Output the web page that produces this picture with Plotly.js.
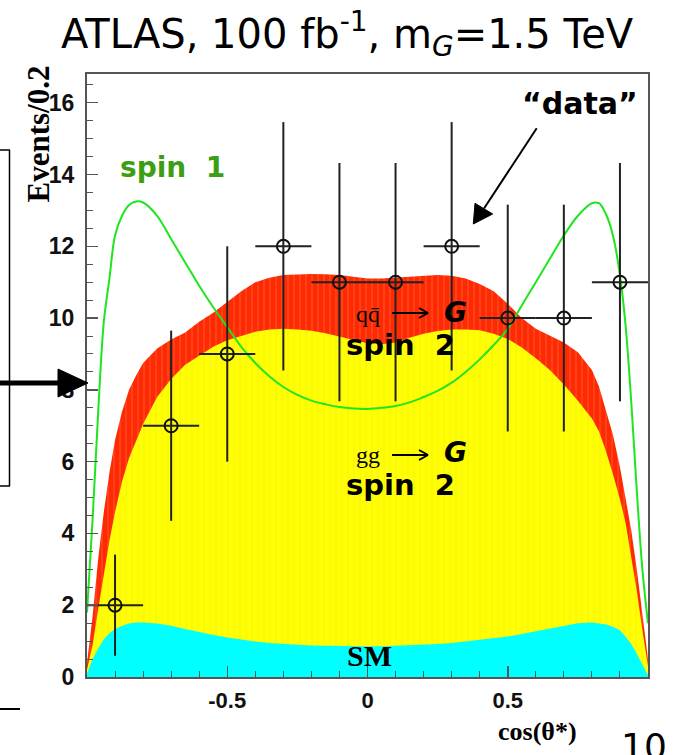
<!DOCTYPE html>
<html><head><meta charset="utf-8">
<script src="https://cdn.plot.ly/plotly-3.0.1.min.js"></script>
<style>html,body{margin:0;padding:0;background:#fff;overflow:hidden}#chart{width:675px;height:755px}</style>
</head><body><div id="chart"></div>
<script>
// ---- data ----
const xGrid = [-1.00,-0.98,-0.96,-0.94,-0.92,-0.90,-0.875,-0.85,-0.825,-0.80,
  -0.75,-0.70,-0.65,-0.60,-0.55,-0.50,-0.45,-0.40,-0.35,-0.30,-0.25,-0.20,-0.15,-0.10,-0.05,
  0.00,0.05,0.10,0.15,0.20,0.25,0.30,0.35,0.40,0.45,0.50,0.55,0.60,0.65,0.70,0.75,
  0.80,0.825,0.85,0.875,0.90,0.92,0.94,0.96,0.98,1.00];
// top of stack: SM + gg->G + qqbar->G (red)
const stackQQ = [0.4,1.7,3.3,4.6,5.7,6.6,7.4,8.0,8.4,8.75,
  9.15,9.4,9.6,9.9,10.15,10.45,10.75,11.0,11.12,11.2,11.22,11.23,11.22,11.2,11.15,
  11.1,11.1,11.12,11.16,11.18,11.2,11.18,11.1,10.95,10.75,10.4,10.0,9.7,9.52,9.32,9.05,
  8.55,8.1,7.45,6.75,5.85,5.0,4.1,3.0,1.8,0.5];
// SM + gg->G (yellow)
const stackGG = [0.2,0.9,1.9,2.9,3.8,4.6,5.45,6.1,6.6,7.05,
  7.8,8.3,8.7,8.95,9.2,9.38,9.5,9.62,9.68,9.7,9.68,9.65,9.58,9.48,9.38,
  9.3,9.27,9.32,9.45,9.56,9.64,9.68,9.68,9.66,9.56,9.42,9.18,8.88,8.55,8.15,7.7,
  7.2,6.85,6.3,5.65,4.95,4.3,3.4,2.4,1.3,0.3];
// SM (cyan)
const stackSM = [0.1,0.5,0.8,1.05,1.22,1.34,1.43,1.49,1.52,1.52,
  1.49,1.43,1.34,1.25,1.17,1.1,1.04,0.99,0.95,0.92,0.9,0.88,0.87,0.86,0.86,
  0.86,0.86,0.87,0.88,0.9,0.92,0.95,0.99,1.04,1.08,1.13,1.2,1.28,1.36,1.44,1.5,
  1.52,1.5,1.46,1.4,1.3,1.12,0.92,0.65,0.35,0.05];
// spin 1 curve (green)
const spin1 = [1.8,4.4,7.4,9.9,11.1,12.3,12.85,13.15,13.25,13.22,
  12.85,12.2,11.55,10.9,10.3,9.75,9.2,8.75,8.38,8.08,7.86,7.7,7.6,7.52,7.48,
  7.47,7.5,7.55,7.65,7.8,7.97,8.2,8.5,8.85,9.25,9.7,10.35,11.0,11.65,12.3,12.85,
  13.2,13.2,12.9,12.3,11.2,9.8,7.7,5.2,3.0,1.5];
// "data" points
const dataX = [-0.9,-0.7,-0.5,-0.3,-0.1,0.1,0.3,0.5,0.7,0.9];
const dataY = [2,7,9,12,11,11,12,10,10,11];
const dataErrY = [1.41,2.65,3.0,3.46,3.32,3.32,3.46,3.16,3.16,3.32];
const dataErrX = [0.1,0.1,0.1,0.1,0.1,0.1,0.1,0.1,0.1,0.1];
const yTickVals = [0,2,4,6,8,10,12,14,16];
const xTickVals = [-0.5,0,0.5];
const xTickText = ['-0.5','0','0.5'];

// ---- layout geometry (pixels) ----
const W=675,H=755,L=87,R=648,T=74,B=677;
const px = x => (x-L)/(R-L);
const py = y => (B-y)/(B-T);
const comic = 'Comic Sans MS, DejaVu Sans, sans-serif';
const times = 'Liberation Serif, Times New Roman, serif';

const traces = [
  {x:xGrid,y:stackQQ,mode:'lines',fill:'tozeroy',line:{width:0,color:'#ff2a00'},fillcolor:'#ff2a00',
   fillpattern:{shape:'|',bgcolor:'#ff2a00',fgcolor:'#ff5a40',size:6,solidity:0.15},hoverinfo:'skip'},
  {x:xGrid,y:stackGG,mode:'lines',fill:'tozeroy',line:{width:0,color:'#ffff00'},fillcolor:'#ffff00',
   fillpattern:{shape:'|',bgcolor:'#ffff00',fgcolor:'#f4ee20',size:6,solidity:0.15},hoverinfo:'skip'},
  {x:xGrid,y:stackSM,mode:'lines',fill:'tozeroy',line:{width:0,color:'#00ffff'},fillcolor:'#00ffff',hoverinfo:'skip'},
  {x:xGrid,y:spin1,mode:'lines',line:{color:'#1ee61e',width:2,shape:'spline'},hoverinfo:'skip'},
  {x:dataX,y:dataY,mode:'markers',
   marker:{symbol:'circle-open',size:13,color:'#111',line:{width:2,color:'#111'}},
   error_y:{type:'data',array:dataErrY,width:0,thickness:2,color:'#222'},
   error_x:{type:'data',array:dataErrX,width:0,thickness:2,color:'#222'}}
];

const ann = [];
function txt(text,x,y,size,family,color,opts){
  ann.push(Object.assign({text:text,xref:'paper',yref:'paper',x:px(x),y:py(y),showarrow:false,
    xanchor:'center',yanchor:'middle',font:{size:size,family:family,color:color||'#000'}},opts||{}));
}
txt('ATLAS, 100 fb<sup>-1</sup>, m<sub><i>G</i></sub>=1.5 TeV',347,34,40,comic,'#000');
txt('Events/0.2',38,64,31,times,'#000',{textangle:-90,yanchor:'top',font:{size:31,family:times,color:'#000',weight:'bold'}});
txt('cos(θ*)',537,731,26,times,'#000',{font:{size:26,family:times,color:'#000',weight:'bold'}});
txt('spin  1',172,168,28,comic,'#3c9e12',{font:{size:28,family:comic,color:'#3c9e12',weight:'bold'}});
txt('“data”',580,103,30,comic,'#000',{font:{size:30,family:comic,color:'#000',weight:'bold'}});
txt('qq̄',368,314,24,times,'#000');
txt('<i>G</i>',455,312,28,comic,'#000',{font:{size:28,family:comic,color:'#000',weight:'bold'}});
txt('spin  2',400,345,29,comic,'#000',{font:{size:29,family:comic,color:'#000',weight:'bold'}});
txt('gg',368,455,24,times,'#000');
txt('<i>G</i>',455,452,28,comic,'#000',{font:{size:28,family:comic,color:'#000',weight:'bold'}});
txt('spin  2',400,485,29,comic,'#000',{font:{size:29,family:comic,color:'#000',weight:'bold'}});
txt('SM',369,655,30,times,'#000',{font:{size:30,family:times,color:'#000',weight:'bold'}});
txt('10',644,724,36,comic,'#000',{yanchor:'top'});

const shapes = [];
function line(x0,y0,x1,y1,w){shapes.push({type:'line',xref:'paper',yref:'paper',x0:px(x0),y0:py(y0),x1:px(x1),y1:py(y1),line:{color:'#000',width:w}});}
function tri(p){shapes.push({type:'path',xref:'paper',yref:'paper',
  path:'M'+p.map(q=>px(q[0])+','+py(q[1])).join(' L')+' Z',fillcolor:'#000',line:{color:'#000',width:1}});}
// small "→" arrows inside the labels
[313,455].forEach(function(y){
  line(392,y,428,y,2);
  line(428,y,419,y-5,2);
  line(428,y,419,y+5,2);
});
// "data" arrow
line(536.7,128.3,484,208.5,2);
tri([[473.3,224],[475,203.3],[492.7,214]]);
// slide decorations on the left
line(0,150,10,150,1.5);
line(9.5,150,9.5,486,1.5);
line(0,486,10,486,1.5);
line(0,383,60,383,5);
tri([[58,369],[88,383],[58,397]]);
line(0,709,20,709,2);

const tickFontX = {family:'Liberation Sans',size:22,color:'#111',weight:'bold'};
const tickFontY = {family:'Liberation Sans',size:23,color:'#111',weight:'bold'};

const layout = {
  width:W,height:H,margin:{l:L,r:W-R,t:T,b:H-B,pad:0},
  paper_bgcolor:'#fff',plot_bgcolor:'#fff',showlegend:false,
  xaxis:{range:[-1,1],tickmode:'array',tickvals:xTickVals,ticktext:xTickText,tickfont:tickFontX,
    showline:true,mirror:true,linecolor:'#555',linewidth:2,ticks:'inside',
    tickcolor:'#555',tickwidth:1.5,ticklen:11,showgrid:false,zeroline:false,
    ticklabelstandoff:3,minor:{ticks:'inside',tick0:0,dtick:0.1,ticklen:6,tickcolor:'#555',tickwidth:1,showgrid:false}},
  yaxis:{range:[0,16.8],tickmode:'array',tickvals:yTickVals,tickfont:tickFontY,
    showline:true,mirror:true,linecolor:'#555',linewidth:2,ticks:'inside',
    tickcolor:'#555',tickwidth:1.5,ticklen:11,showgrid:false,zeroline:false,
    ticklabelstandoff:6,minor:{ticks:'inside',tick0:0,dtick:0.5,ticklen:6,tickcolor:'#555',tickwidth:1,showgrid:false}},
  annotations:ann,shapes:shapes
};
Plotly.newPlot('chart',traces,layout,{staticPlot:true,displayModeBar:false});
</script></body></html>
